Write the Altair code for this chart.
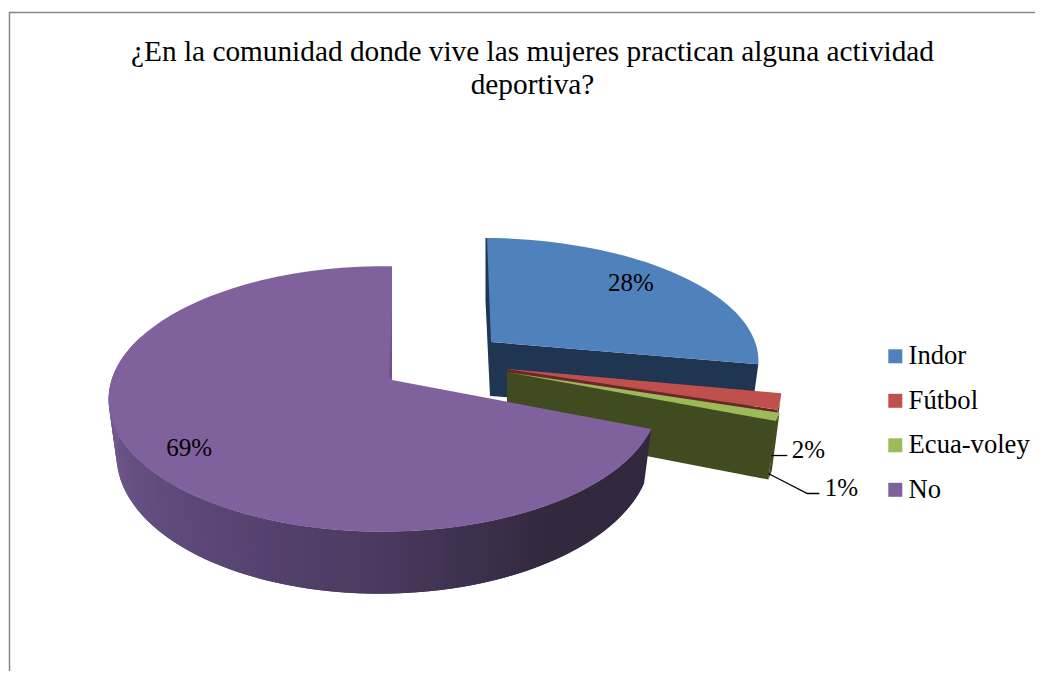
import math
import altair as alt

categories = ["Indor", "Fútbol", "Ecua-voley", "No"]
values = [28, 2, 1, 69]
labels = ["28%", "2%", "1%", "69%"]
top_colors = ["#4f81bd", "#c0504d", "#9bbb59", "#7f619d"]
wall_colors = ["#1f3551", "#6a2725", "#404b20", "#32283f"]

title_lines = ["¿En la comunidad donde vive las mujeres practican alguna actividad", "deportiva?"]
FONT = "Liberation Serif"
TOP_PAD = 110

# per-slice view of the 3-D pie: apex x, apex y, half width, half depth, front/back and side perspective, shear, thickness
views = [
    (491, 342, 272, 119, 0.143, 0.03, -4.6, 54),
    (507, 369, 280, 130, 0.143, 0.03, 0.0, 54),
    (507, 372, 282, 130, 0.143, 0.03, 0.0, 57),
    (392, 380, 272, 130, 0.143, 0.03, 0.0, 53),
]
SHRINK = 0.972


def rim(view, deg, r=1.0):
    ax, ay, a, b, p, q, k, _ = view
    u, v = r * math.sin(math.radians(deg)), r * math.cos(math.radians(deg))
    s = 1 / (1 + p * v + q * u)
    return ax + s * (a * u + k * v), ay - s * b * v


def depth(view, deg):
    ax, ay, a, b, p, q, k, t = view
    u, v = math.sin(math.radians(deg)), math.cos(math.radians(deg))
    return t / (1 + p * v + q * u)


def lower(view, deg):
    x, y = rim(view, deg)
    return view[0] + (x - view[0]) * SHRINK, y + depth(view, deg)


def poly(key, pts):
    pts = [list(pt) for pt in pts]
    return {"type": "Feature", "properties": {"key": key},
            "geometry": {"type": "Polygon", "coordinates": [pts + [pts[0]]]}}


def mix(c1, c2, t):
    a = [int(c1[i:i + 2], 16) for i in (1, 3, 5)]
    b = [int(c2[i:i + 2], 16) for i in (1, 3, 5)]
    return "#%02x%02x%02x" % tuple(round(x + (y - x) * t) for x, y in zip(a, b))


def purple_wall(deg):
    stops = [(110, "#32283f"), (150, "#33293f"), (182, "#4a3a60"), (225, "#5f4a7c"), (265, "#735a8e"), (290, "#735a8e")]
    for (d0, c0), (d1, c1) in zip(stops, stops[1:]):
        if deg <= d1:
            return mix(c0, c1, (deg - d0) / (d1 - d0))
    return stops[-1][1]


starts = []
acc = 0
for val in values:
    starts.append(acc * 3.6)
    acc += val
ends = [s + val * 3.6 for s, val in zip(starts, values)]

features = []
extra_domain, extra_range = [], []


def add_wall(key, color, pts):
    extra_domain.append(key)
    extra_range.append(color)
    features.append(poly(key, pts))


def top_face(i):
    v = views[i]
    steps = max(2, int(values[i] * 3.6 / 2))
    arc = [rim(v, starts[i] + (ends[i] - starts[i]) * j / steps) for j in range(steps + 1)]
    features.append(poly(categories[i], [(v[0], v[1])] + arc))


def radial_wall(i, deg):
    v = views[i]
    x, y = rim(v, deg)
    lx, ly = lower(v, deg)
    add_wall(f"radial{i}-{deg}", wall_colors[i], [(v[0], v[1]), (x, y), (lx, ly), (v[0], v[1] + v[7])])


def arc_wall(i):
    v = views[i]
    steps = max(2, int(values[i] * 3.6 / 2))
    ds = [starts[i] + (ends[i] - starts[i]) * j / steps for j in range(steps + 1)]
    add_wall(f"arc{i}", wall_colors[i], [rim(v, d) for d in ds] + [lower(v, d) for d in reversed(ds)])


# Indor: inner sliver, radial wall, face
v0 = views[0]
rx, ry = rim(v0, starts[0])
add_wall("sliver0", wall_colors[0], [(rx - 1.5, ry), (rx + 1, ry), (v0[0] + 1, v0[1]), (v0[0] + 1, v0[1] + v0[7]),
                                      (v0[0] - 1, v0[1] + v0[7]), (rx - 1.5, ry + 62)])
radial_wall(0, ends[0])
top_face(0)
# Fútbol
arc_wall(1)
radial_wall(1, ends[1])
top_face(1)
# Ecua-voley
arc_wall(2)
radial_wall(2, ends[2])
top_face(2)
# No: outer wall in overlapping shaded strips, then the face and its inner sliver
v3 = views[3]
deg = starts[3]
n = 0
while deg < 290:
    nxt = min(deg + 1.5, 290)
    over = min(nxt + 1.5, 290)
    add_wall(f"strip{n}", purple_wall(deg), [rim(v3, deg), rim(v3, over), lower(v3, over), lower(v3, deg)])
    deg = nxt
    n += 1
top_face(3)
add_wall("sliver3", "#6d5488", [(v3[0], v3[1] - 70), (v3[0], v3[1] - 2), (v3[0] - 3, v3[1] - 2)])

domain = categories + extra_domain
rng = top_colors + extra_range

PROJ = dict(type="identity", scale=1, translate=[-8, -8 - TOP_PAD])

pie = alt.Chart(alt.Data(values=features)).mark_geoshape(strokeWidth=0, clip=False).encode(
    color=alt.Color(
        "properties.key:N",
        scale=alt.Scale(domain=domain, range=rng),
        legend=alt.Legend(
            values=categories, title=None, orient="none", legendX=874, legendY=343 - TOP_PAD - 8,
            symbolType="square", symbolSize=196, symbolStrokeWidth=0, labelFont=FONT, labelFontSize=26.6,
            labelColor="black", labelOffset=0, rowPadding=17.5, labelLimit=200,
        ),
    ),
).project(**PROJ)

# frame and leader lines
line_features = [
    {"type": "Feature", "properties": {"key": "frame"},
     "geometry": {"type": "LineString", "coordinates": [[9.5, 679], [9.5, 12.5], [1043, 12.5]]}},
]
frame = alt.Chart(alt.Data(values=line_features)).mark_geoshape(filled=False, stroke="#868686", strokeWidth=1.5, clip=False).project(**PROJ)

ecua_bx, ecua_by = lower(views[2], ends[2])
leaders = [
    {"type": "Feature", "properties": {"key": "2%"},
     "geometry": {"type": "LineString", "coordinates": [[ecua_bx + 3, ecua_by - 24], [ecua_bx + 19, ecua_by - 24]]}},
    {"type": "Feature", "properties": {"key": "1%"},
     "geometry": {"type": "LineString", "coordinates": [[ecua_bx, ecua_by - 6], [ecua_bx + 39, ecua_by + 14], [ecua_bx + 51, ecua_by + 14]]}},
]
lead = alt.Chart(alt.Data(values=leaders)).mark_geoshape(filled=False, stroke="black", strokeWidth=1.3, clip=False).project(**PROJ)

lab_rows = []
x, y = rim(views[0], 46.8, 0.796)
lab_rows.append({"t": labels[0], "lon": x - 2, "lat": y})
lab_rows.append({"t": labels[1], "lon": ecua_bx + 40, "lat": ecua_by - 30})
lab_rows.append({"t": labels[2], "lon": ecua_bx + 73, "lat": ecua_by + 8})
x, y = rim(views[3], 235, 0.83)
lab_rows.append({"t": labels[3], "lon": x, "lat": y})

text = alt.Chart(alt.Data(values=lab_rows)).mark_text(font=FONT, fontSize=25, color="black", align="center", baseline="middle", clip=False).encode(
    longitude="lon:Q", latitude="lat:Q", text="t:N"
).project(**PROJ)

chart = alt.layer(frame, pie, lead, text).properties(
    width=1027, height=663 - TOP_PAD,
    title=alt.TitleParams(text=title_lines, font=FONT, fontSize=29.3, fontWeight="normal", color="black",
                          anchor="middle", offset=-90.5, dx=11, lineHeight=33),
    padding={"top": TOP_PAD, "left": 0, "right": 0, "bottom": 0},
    autosize=alt.AutoSizeParams(type="none"),
).configure_view(stroke=None)

chart.save("out.html", embed_options={"renderer": "svg", "actions": False})
